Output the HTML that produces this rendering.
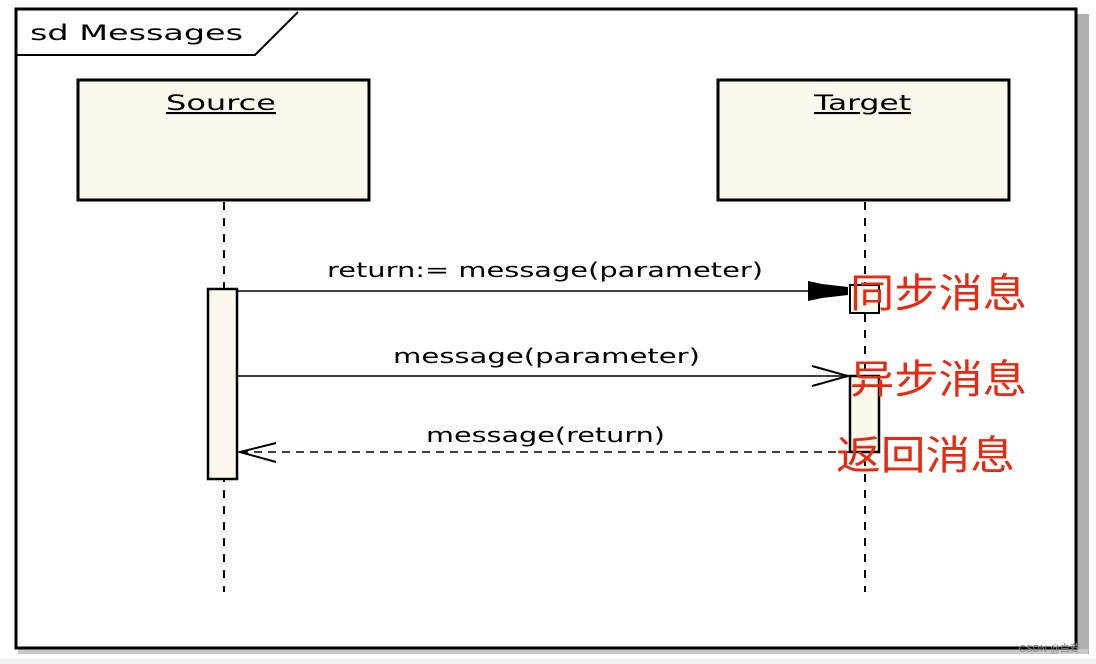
<!DOCTYPE html>
<html><head><meta charset="utf-8"><style>
html,body{margin:0;padding:0;background:#fff;width:1096px;height:664px;overflow:hidden}
</style></head><body>
<svg width="1096" height="664" xmlns="http://www.w3.org/2000/svg">
<rect x="0" y="658" width="1096" height="6" fill="#f2f2f2"/>
<rect x="1077" y="14" width="12" height="640" fill="#b0b0b0"/>
<rect x="18" y="649" width="1070" height="5" fill="#c8c8c8"/>
<rect x="16" y="9" width="1060" height="639" fill="#fff" stroke="#000" stroke-width="3"/>
<path d="M16 55 H255 L298 12" fill="none" stroke="#000" stroke-width="2"/>
<g font-family="'DejaVu Sans','Liberation Sans',sans-serif" font-size="21">
<text x="30" y="40" textLength="213" lengthAdjust="spacingAndGlyphs">sd Messages</text>
</g>
<rect x="78" y="80" width="291" height="120" fill="#fdf8ee" stroke="#000" stroke-width="3"/>
<rect x="718" y="80" width="291" height="120" fill="#fdf8ee" stroke="#000" stroke-width="3"/>
<g font-family="'DejaVu Sans','Liberation Sans',sans-serif" font-size="21" text-decoration="underline">
<text x="166" y="110" textLength="110" lengthAdjust="spacingAndGlyphs">Source</text>
<text x="814" y="110" textLength="97" lengthAdjust="spacingAndGlyphs">Target</text>
</g>
<line x1="224" y1="202" x2="224" y2="592" stroke="#000" stroke-width="2" stroke-dasharray="8,8"/>
<line x1="865" y1="202" x2="865" y2="592" stroke="#000" stroke-width="2" stroke-dasharray="8,8"/>
<rect x="208" y="289" width="29" height="190" fill="#fdf8ee" stroke="#000" stroke-width="2.5"/>
<rect x="850" y="285" width="29" height="28" fill="#fdf8ee" stroke="#000" stroke-width="2"/>
<rect x="850" y="376" width="29" height="76" fill="#fdf8ee" stroke="#000" stroke-width="2.5"/>
<line x1="237" y1="291" x2="848" y2="291" stroke="#000" stroke-width="1.5"/>
<path d="M808 281 L822 284 L848 287 L848 295 L822 298 L808 301 Z" fill="#000"/>
<line x1="237" y1="376" x2="848" y2="376" stroke="#000" stroke-width="1.5"/>
<path d="M812 366 L848 376 L812 386" fill="none" stroke="#000" stroke-width="2"/>
<line x1="240" y1="452" x2="849" y2="452" stroke="#000" stroke-width="1.5" stroke-dasharray="8,6"/>
<path d="M276 443 L240 452 L276 462" fill="none" stroke="#000" stroke-width="2"/>
<g font-family="'DejaVu Sans','Liberation Sans',sans-serif" font-size="20">
<text x="327" y="277" textLength="436" lengthAdjust="spacingAndGlyphs">return:= message(parameter)</text>
<text x="393" y="363" textLength="307" lengthAdjust="spacingAndGlyphs">message(parameter)</text>
<text x="426" y="442" textLength="239" lengthAdjust="spacingAndGlyphs">message(return)</text>
</g>
<g font-family="'Liberation Sans','Noto Sans CJK SC',sans-serif" font-size="40" fill="#e8280f">
<text x="850" y="307" textLength="177" lengthAdjust="spacingAndGlyphs">同步消息</text>
<text x="850" y="393" textLength="177" lengthAdjust="spacingAndGlyphs">异步消息</text>
<text x="836" y="469" textLength="179" lengthAdjust="spacingAndGlyphs">返回消息</text>
</g>
<text x="1080" y="652" text-anchor="end" font-family="'Liberation Sans','Noto Sans CJK SC',sans-serif" font-size="10" fill="#888">CSDN @白菱</text>
</svg>
</body></html>
